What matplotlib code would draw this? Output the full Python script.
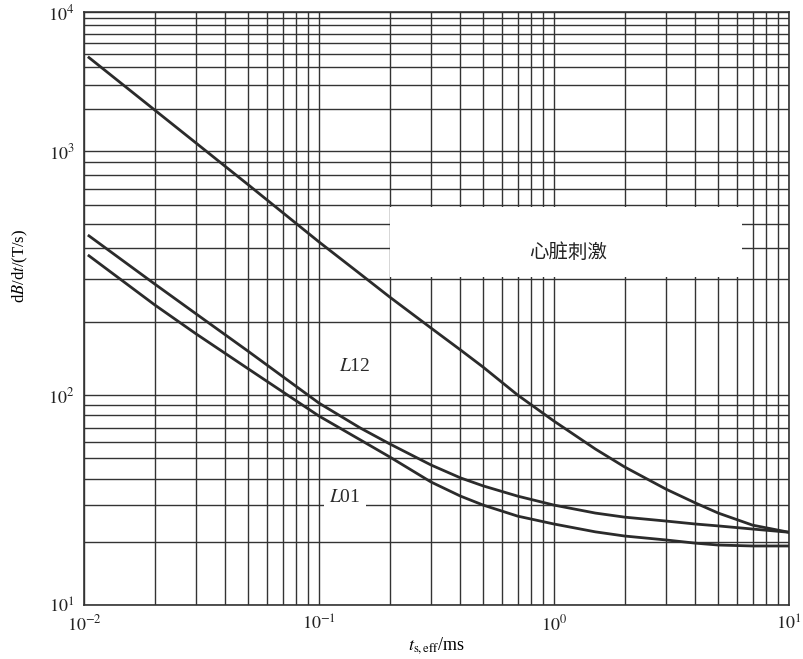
import numpy as np
import matplotlib.pyplot as plt
from matplotlib.patches import Rectangle

plt.rcParams['font.family'] = ['Liberation Serif', 'DejaVu Serif']
plt.rcParams['mathtext.fontset'] = 'stix'

# effective stimulus duration, ms
t_eff = [0.0105, 0.02, 0.03, 0.05, 0.1, 0.15, 0.2, 0.3, 0.4, 0.5, 0.7,
         1.0, 1.5, 2.0, 3.0, 4.0, 5.0, 7.0, 10.0]
# dB/dt thresholds, T/s
cardiac = [4700, 1970, 1140, 727, 424, 313, 252, 188, 153, 130, 100,
           75.1, 55.3, 45.4, 35.6, 30.6, 27.4, 24.0, 22.2]
level_12 = [449, 285, 215, 151, 91.5, 69.6, 58.5, 46.4, 40.3, 36.9, 33.0,
            29.9, 27.4, 26.2, 25.1, 24.3, 23.8, 23.0, 22.2]
level_01 = [372, 234, 178, 128, 79.4, 61.1, 50.7, 38.5, 33.0, 29.9, 26.5,
            24.3, 22.3, 21.3, 20.4, 19.7, 19.3, 19.1, 19.1]

y_ticks = [10, 100, 1000, 10000]
y_ticklabels = [r'$10^{1}$', r'$10^{2}$', r'$10^{3}$', r'$10^{4}$']
x_ticks = [0.01, 0.1, 1, 10]
x_ticklabels = [r'$10^{-2}$', r'$10^{-1}$', r'$10^{0}$', r'$10^{1}$']

# the printed chart has unequal decade heights on the y axis
dec_log = [1, 2, 3, 4]
dec_pos = [0, 210, 454, 593]


def fwd(v):
    v = np.clip(np.asarray(v, dtype=float), 1e-6, None)
    return np.interp(np.log10(v), dec_log, dec_pos)


def inv(p):
    return 10 ** np.interp(np.asarray(p, dtype=float), dec_pos, dec_log)


grid_c = '#333333'
line_c = '#2b2b2b'

fig = plt.figure(figsize=(8.04, 6.59), dpi=100)
ax = fig.add_axes([84 / 804, 1 - 605 / 659, 705 / 804, 593 / 659])

ax.set_xscale('log')
ax.set_yscale('function', functions=(fwd, inv))
ax.set_xlim(0.01, 10)
ax.set_ylim(10, 10000)

ax.set_xticks(x_ticks, labels=x_ticklabels)
ax.set_yticks(y_ticks, labels=y_ticklabels)
minor_y = [m * d for d in (10, 100, 1000) for m in range(2, 10)]
ax.set_yticks(minor_y, minor=True)
ax.set_yticklabels([], minor=True)
minor_x = [m * d for d in (0.01, 0.1, 1) for m in range(2, 10)]
ax.set_xticks(minor_x, minor=True)
ax.set_xticklabels([], minor=True)

ax.grid(which='both', color=grid_c, lw=1.0, zorder=1)
ax.set_axisbelow(True)
ax.tick_params(which='both', length=0, pad=7, labelsize=13, colors='#222222')
for s in ax.spines.values():
    s.set_color(grid_c)
    s.set_linewidth(1.2)

ax.plot(t_eff, cardiac, color=line_c, lw=2.0, zorder=4)
ax.plot(t_eff, level_12, color=line_c, lw=2.0, zorder=4)
ax.plot(t_eff, level_01, color=line_c, lw=2.0, zorder=4)

# white panel for the cardiac stimulation region label
ax.add_patch(Rectangle((0.2, 305), 6.3 - 0.2, 590 - 305, facecolor='white',
                       edgecolor='none', zorder=2))
ax.text(1.15, 385, '心脏刺激', family=['Noto Sans CJK SC', 'DejaVu Sans'],
        fontsize=14, color='#222222', ha='center', va='center', zorder=3)

ax.text(0.142, 131, r'$L$12', fontsize=14, color='#2a2a2a',
        ha='center', va='center', zorder=3)
ax.text(0.129, 32.4, r'$L$01', fontsize=14, color='#2a2a2a',
        ha='center', va='center', zorder=3,
        bbox=dict(facecolor='white', edgecolor='none', pad=4))

ax.set_xlabel(r'$t_{\mathrm{s,eff}}$/ms', fontsize=13, labelpad=0)
fig.text(20 / 804, 1 - 266 / 659, r'd$B$/d$t$/(T/s)', rotation=90,
         fontsize=12, ha='center', va='center')

fig.savefig('out.png', dpi=100, facecolor='white')
